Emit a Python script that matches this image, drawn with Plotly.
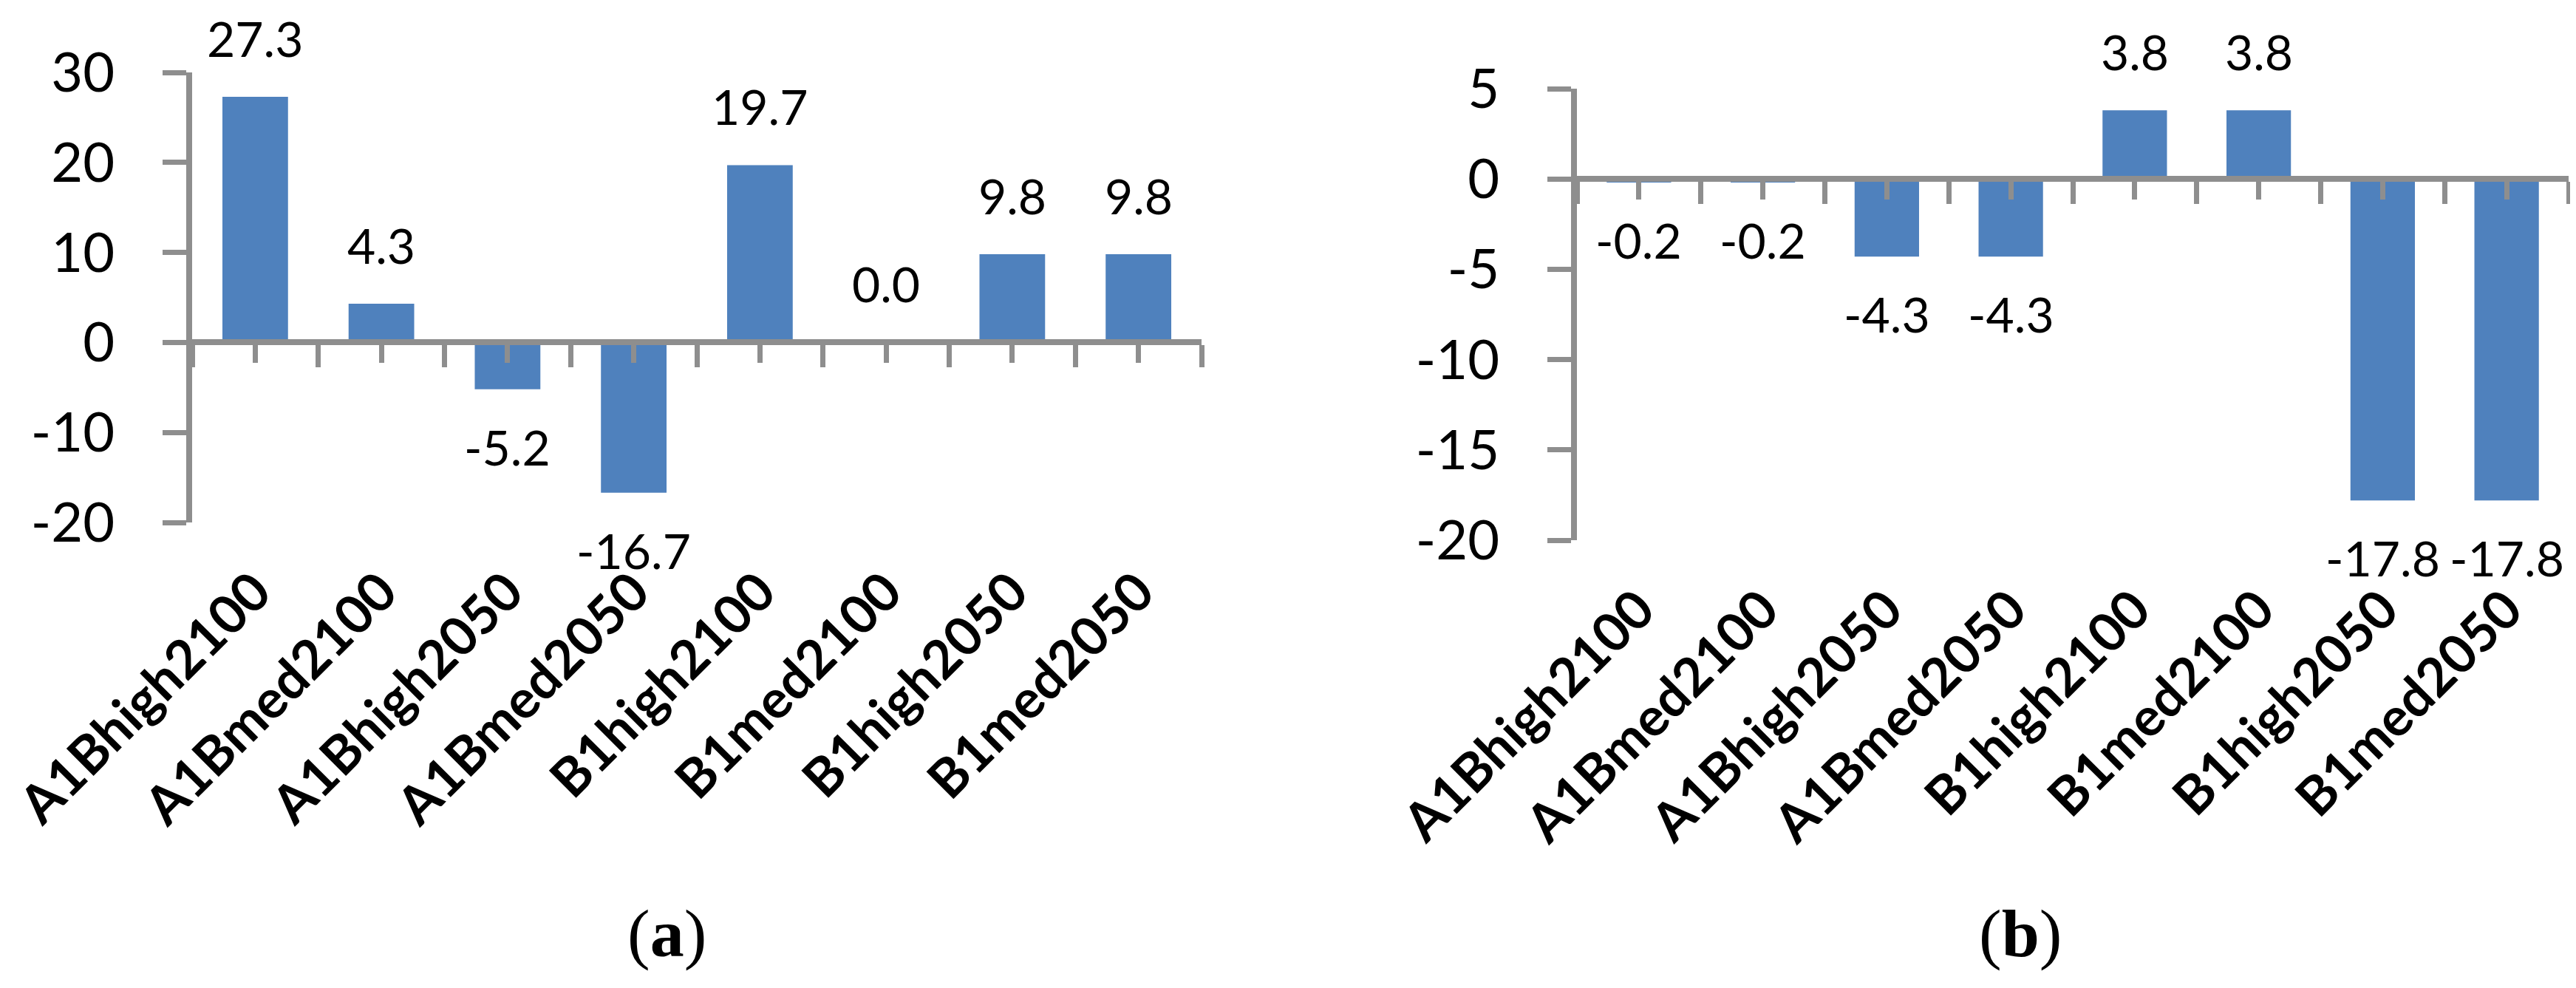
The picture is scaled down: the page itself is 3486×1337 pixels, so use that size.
import plotly.graph_objects as go

# data ---------
scenarios = ["A1Bhigh2100", "A1Bmed2100", "A1Bhigh2050", "A1Bmed2050",
             "B1high2100", "B1med2100", "B1high2050", "B1med2050"]
change_a = [27.3, 4.3, -5.2, -16.7, 19.7, 0.0, 9.8, 9.8]
change_b = [-0.2, -0.2, -4.3, -4.3, 3.8, 3.8, -17.8, -17.8]

ticks_a = [-20, -10, 0, 10, 20, 30]
ticks_b = [-20, -15, -10, -5, 0, 5]
captions = ["a", "b"]

blue = "#4F81BD"
grey = "#8E8E8E"
W, H = 3486, 1337

# plot areas (paper fractions)
dom_xa = [252 / W, 1618 / W]
dom_xb = [2126 / W, 3468 / W]
dom_ya = [1 - 699 / H, 1 - 90 / H]
dom_yb = [1 - 723 / H, 1 - 112 / H]
range_a = [-20, 30]
range_b = [-20, 5]


def zero_pos(dom, rng):
    return dom[0] + (0 - rng[0]) / (rng[1] - rng[0]) * (dom[1] - dom[0])


fig = go.Figure()
fig.add_trace(go.Bar(x=scenarios, y=change_a, marker_color=blue,
                     marker_line_width=0, xaxis="x", yaxis="y"))
fig.add_trace(go.Bar(x=scenarios, y=change_b, marker_color=blue,
                     marker_line_width=0, xaxis="x2", yaxis="y2"))
# empty traces so the zero-line axes get drawn
idx = list(range(len(scenarios)))
fig.add_trace(go.Scatter(x=idx, y=change_a, mode="none", hoverinfo="skip",
                         xaxis="x3", yaxis="y"))
fig.add_trace(go.Scatter(x=idx, y=change_b, mode="none", hoverinfo="skip",
                         xaxis="x4", yaxis="y2"))

# value labels
annotations = []
for xr, yr, vals in [("x", "y", change_a), ("x2", "y2", change_b)]:
    for s, v in zip(scenarios, vals):
        up = v >= 0
        annotations.append(dict(
            x=s, y=v, xref=xr, yref=yr, text=f"{v:.1f}", showarrow=False,
            yanchor="bottom" if up else "top", yshift=38 if up else -36,
            font=dict(family="Lato", size=66, color="black")
        ))

# captions
for cap, cx in zip(captions, [895 / W, 2726 / W]):
    annotations.append(dict(
        x=cx, y=1 - 1255 / H, xref="paper", yref="paper",
        text=f"(<b>{cap}</b>)", showarrow=False, xanchor="center", yanchor="middle",
        font=dict(family="Liberation Serif", size=92, color="black")
    ))

cat_axis = dict(
    type="category", range=[-0.5, 7.5], showline=False, showgrid=False,
    ticks="", zeroline=False, tickangle=-45, automargin=False,
    tickfont=dict(family="Lato", size=72, color="black", weight="bold"),
    ticklabelstandoff=36
)
zero_axis = dict(
    range=[-0.5, 7.5], showgrid=False, zeroline=False, showticklabels=False,
    showline=True, linecolor=grey, linewidth=8,
    ticks="outside", tick0=-0.5, dtick=1, ticklen=30, tickwidth=7, tickcolor=grey,
    minor=dict(ticks="outside", tick0=0, dtick=1, ticklen=24, tickwidth=7,
               tickcolor=grey),
    anchor="free", side="bottom", layer="above traces", automargin=False
)
val_axis = dict(
    showgrid=False, zeroline=False, showline=True, linecolor=grey, linewidth=8,
    ticks="outside", ticklen=32, tickwidth=7, tickcolor=grey, automargin=False,
    tickfont=dict(family="Lato", size=74, color="black"), ticklabelstandoff=50
)

fig.update_layout(
    width=W, height=H,
    margin=dict(l=0, r=0, t=0, b=0),
    paper_bgcolor="white", plot_bgcolor="white",
    showlegend=False, bargap=0.48,
    xaxis=dict(cat_axis, domain=dom_xa, anchor="y"),
    xaxis2=dict(cat_axis, domain=dom_xb, anchor="y2"),
    xaxis3=dict(zero_axis, domain=dom_xa, overlaying="x",
                position=zero_pos(dom_ya, range_a)),
    xaxis4=dict(zero_axis, domain=dom_xb, overlaying="x2",
                position=zero_pos(dom_yb, range_b)),
    yaxis=dict(val_axis, domain=dom_ya, range=range_a, anchor="x",
               tickvals=ticks_a, ticktext=[str(t) for t in ticks_a]),
    yaxis2=dict(val_axis, domain=dom_yb, range=range_b, anchor="x2",
                tickvals=ticks_b, ticktext=[str(t) for t in ticks_b]),
    annotations=annotations
)

fig.write_html("out.html")
